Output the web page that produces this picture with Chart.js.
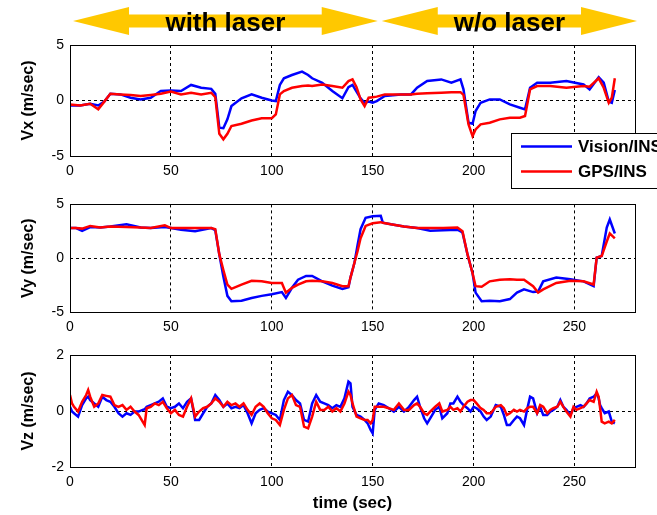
<!DOCTYPE html>
<html>
<head>
<meta charset="utf-8">
<script src="https://cdn.jsdelivr.net/npm/chart.js@4.4.1/dist/chart.umd.min.js"></script>
<style>
  html, body { margin: 0; padding: 0; background: #fff; }
  #wrap { position: relative; width: 657px; height: 515px; overflow: hidden; }
  #wrap canvas { position: absolute; left: 0; }
</style>
</head>
<body>
<div id="wrap">
  <canvas id="vx" width="657" height="190" style="top:0"></canvas>
  <canvas id="vy" width="657" height="150" style="top:190px"></canvas>
  <canvas id="vz" width="657" height="175" style="top:340px"></canvas>
</div>
<script>
// ---- data ------------------------------------------------------------------
const seriesNames = ['Vision/INS', 'GPS/INS'];

const phaseLabels = ['with laser', 'w/o laser'];
const phaseStart  = [1.5, 154.5];
const phaseEnd    = [152.5, 281];

const vxTime = [0, 5, 10, 14, 17, 20, 25, 30, 35, 40, 45, 50, 55, 60, 65, 70, 72, 74, 76, 78,
  80, 85, 90, 95, 100, 102, 104, 106, 110, 115, 118, 120, 125, 130, 135, 138, 140, 142, 144, 146,
  148, 150, 152, 156, 164, 169, 172, 177, 184, 189, 193.5, 195, 197.5, 199.5, 201, 203.5, 208, 213, 218, 223,
  225.5, 228, 231.5, 238, 246, 254.5, 257.5, 262, 264.5, 267, 268.5, 270];
const vxVision = [-0.45, -0.45, -0.3, -0.45, -0.1, 0.6, 0.55, 0.25, 0.1, 0.25,
  0.85, 0.9, 0.85, 1.4, 1.15, 1.05, 0.6, -2.45, -2.5, -1.7,
  -0.5, 0.2, 0.55, 0.25, 0.0, -0.05, 1.4, 2.0, 2.3, 2.6,
  2.3, 2.0, 1.6, 0.85, 0.2, 1.2, 1.4, 0.8, 0.2, -0.2,
  -0.1, -0.2, -0.05, 0.4, 0.55, 0.55, 1.15, 1.75, 1.9, 1.6,
  1.9, 1.0, -2.0, -2.1, -0.95, -0.2, 0.1, 0.1, -0.35, -0.65,
  -0.8, 1.15, 1.6, 1.6, 1.75, 1.45, 1.0, 2.1, 1.6, -0.1,
  -0.2, 0.95];
const vxGps = [-0.35, -0.45, -0.3, -0.8, -0.1, 0.6, 0.55, 0.5, 0.4, 0.5,
  0.6, 0.8, 0.55, 0.7, 0.55, 0.7, 0.3, -3.0, -3.5, -3.0,
  -2.3, -2.1, -1.8, -1.6, -1.6, -1.25, 0.55, 0.85, 1.15, 1.3,
  1.35, 1.3, 1.45, 1.3, 1.15, 1.75, 1.9, 1.2, 0.1, -0.5,
  0.25, 0.3, 0.35, 0.55, 0.55, 0.55, 0.6, 0.65, 0.7, 0.75,
  0.75, 0.5, -2.15, -3.2, -2.6, -2.15, -2.0, -1.7, -1.55, -1.55,
  -1.4, 1.0, 1.3, 1.3, 1.15, 1.3, 1.25, 2.0, 1.15, -0.2,
  0.25, 2.0];

const vyTime = [0, 3, 6, 10, 15, 20, 28, 35, 40, 47, 50, 55, 62, 70, 72, 74, 76, 78, 80, 85,
  90, 95, 100, 105, 107, 110, 113, 117, 120, 125, 130, 135, 138, 139, 141, 142.5, 144, 146.5, 150, 154,
  155, 159, 165.5, 172, 178.5, 185, 192, 194.5, 197, 199.5, 201, 204, 208, 213, 218, 221.5, 225, 229.5, 232, 234.5,
  241, 248, 254.5, 259.5, 261, 263.5, 266, 267.5, 270];
const vyVision = [2.8, 2.8, 2.55, 2.9, 2.85, 2.95, 3.15, 2.85, 2.8, 2.9,
  2.8, 2.65, 2.5, 2.8, 2.6, 0.35, -1.7, -3.5, -4.0, -3.95,
  -3.7, -3.5, -3.35, -3.15, -3.7, -2.75, -2.0, -1.65, -1.65, -2.15,
  -2.55, -2.85, -2.7, -1.8, -0.4, 1.2, 2.7, 3.75, 3.9, 3.95,
  3.3, 3.15, 2.95, 2.8, 2.55, 2.6, 2.65, 2.4, 0.35, -1.4,
  -3.2, -4.0, -3.95, -4.0, -3.8, -3.2, -2.9, -3.15, -3.1, -2.15,
  -1.8, -1.95, -2.15, -2.6, 0.05, 0.2, 2.85, 3.6, 2.3];
const vyGps = [2.8, 2.8, 2.75, 3.0, 2.85, 2.95, 2.9, 2.85, 2.8, 3.05,
  2.8, 2.8, 2.8, 2.8, 2.7, 0.35, -1.1, -2.45, -2.85, -2.45,
  -2.1, -2.15, -2.3, -2.3, -3.2, -2.75, -2.45, -2.15, -2.1, -2.15,
  -2.3, -2.6, -2.6, -1.8, -0.4, 0.65, 1.85, 3.0, 3.25, 3.35,
  3.3, 3.15, 2.95, 2.8, 2.8, 2.8, 2.85, 2.5, 0.35, -1.4,
  -2.6, -2.65, -2.15, -2.0, -1.95, -2.0, -2.0, -2.6, -3.2, -2.9,
  -2.3, -2.1, -2.15, -2.45, 0.05, 0.2, 1.55, 2.3, 1.85];

const vzTime = [0, 1, 2, 4, 6, 8, 9, 10, 12, 14, 16, 18, 20, 22, 24, 26, 28, 30, 32, 34,
  36, 37, 38, 40, 42, 44, 46, 48, 50, 52, 54, 56, 58, 60, 62, 64, 66, 68, 70, 72,
  74, 76, 78, 80, 82, 84, 86, 88, 90, 92, 94, 96, 98, 100, 102, 104, 106, 108, 110, 112,
  114, 116, 118, 120, 122, 124, 126, 128, 130, 132, 134, 136, 138, 139, 140,
  142, 144, 146, 147.5, 149, 150, 151, 153, 155.5, 158, 160.5, 163, 165.5, 168, 170.5, 172, 173.5, 175.5, 177, 178.5,
  181, 183, 184.5, 187, 188.5, 190, 192, 193.5, 195, 197, 198.5, 200, 201.5, 203.5, 205, 206.5, 208.5, 211, 213.5, 215,
  216.5, 218, 220, 221.5, 223, 225, 226.5, 228, 229.5, 231.5, 233, 234.5, 236.5, 238, 239.5, 241.5, 243, 244.5, 246, 248,
  249.5, 251, 253, 254.5, 256, 257.5, 259.5, 261, 262, 262.7, 263.5, 265, 267, 268.5, 270];
const vzVision = [0.15, -0.02, -0.08, -0.2, 0.21, 0.45, 0.51, 0.39, 0.27, 0.15,
  0.51, 0.39, 0.33, 0.15, -0.08, -0.2, -0.08, -0.14, -0.02, -0.02,
  0.04, 0.06, 0.15, 0.21, 0.27, 0.33, 0.45, 0.15, 0.1, 0.15,
  0.27, 0.1, 0.33, 0.45, -0.32, -0.32, -0.08, 0.15, 0.27, 0.57,
  0.39, 0.15, 0.27, 0.1, 0.15, 0.1, 0.21, -0.08, -0.44, -0.08,
  0.04, 0.1, -0.02, -0.08, -0.14, -0.32, 0.39, 0.69, 0.57, 0.39,
  0.27, -0.32, -0.38, 0.27, 0.57, 0.33, 0.27, 0.21, 0.1, 0.21,
  0.15, 0.45, 1.05, 0.99, 0.15,
  -0.14, -0.2, -0.32, -0.44, -0.68, -0.8, 0.04, 0.27, 0.21, 0.1,
  -0.02, 0.15, -0.02, 0.15, 0.39, 0.51, 0.15, -0.26, -0.44, -0.26,
  0.04, 0.15, -0.26, -0.08, 0.27, 0.27, 0.51, 0.33, 0.21, 0.1,
  -0.02, 0.15, 0.1, -0.02, -0.2, -0.32, -0.2, 0.21, 0.15, -0.14,
  -0.5, -0.5, -0.32, -0.2, -0.26, -0.5, 0.04, 0.51, 0.45, -0.08,
  0.15, -0.14, -0.14, -0.02, 0.04, 0.15, 0.39, 0.15, 0.04, -0.14,
  0.1, 0.15, 0.21, 0.15, 0.27, 0.45, 0.51, 0.63, 0.45, 0.21,
  0.1, -0.08, -0.02, -0.38, -0.44];
const vzGps = [0.57, 0.27, 0.15, -0.02, 0.33, 0.57, 0.75, 0.51, 0.15, 0.27,
  0.57, 0.54, 0.51, 0.21, 0.15, 0.21, 0.04, 0.15, -0.02, -0.14,
  -0.38, -0.5, 0.1, 0.15, 0.27, 0.21, 0.33, 0.1, -0.08, 0.04,
  -0.14, -0.2, 0.15, 0.45, -0.2, -0.02, 0.1, 0.15, 0.27, 0.45,
  0.33, 0.15, 0.33, 0.21, 0.27, 0.15, 0.27, 0.04, -0.14, 0.15,
  0.27, 0.15, -0.08, -0.26, -0.32, -0.5, 0.04, 0.45, 0.57, 0.21,
  0.15, -0.56, -0.62, -0.2, 0.33, 0.04, 0.04, 0.15, -0.02, 0.1,
  -0.02, 0.27, 0.69, 0.57, 0.27,
  -0.2, -0.26, -0.32, -0.32, -0.44, -0.32, 0.15, 0.15, 0.15, 0.1,
  0.04, 0.27, 0.04, 0.04, 0.21, 0.27, 0.15, -0.08, -0.14, -0.02,
  0.15, 0.27, -0.02, 0.04, 0.15, 0.04, 0.1, -0.02, 0.15, 0.33,
  0.39, 0.39, 0.27, 0.1, 0.04, -0.08, -0.08, 0.15, 0.21, 0.1,
  -0.14, -0.08, 0.04, -0.02, 0.04, -0.02, 0.1, 0.15, 0.15, -0.08,
  0.21, 0.15, -0.08, 0.04, 0.1, 0.15, 0.33, 0.15, -0.02, -0.2,
  0.15, 0.04, 0.1, 0.15, 0.27, 0.39, 0.33, 0.69, 0.51, 0.1,
  -0.38, -0.44, -0.38, -0.44, -0.32];

// ---- styling ----------------------------------------------------------------
const BLUE = 'rgb(0, 0, 255)';
const RED  = 'rgb(255, 0, 0)';
const GOLD = 'rgb(255, 200, 0)';
const SANS = '"Liberation Sans", Arial, sans-serif';
const TICK_FONT = { family: '"Liberation Sans Narrow", "Liberation Sans", Arial, sans-serif', size: 14 };

const toPoints = (t, v) => t.map((x, i) => ({ x, y: v[i] }));

// closed MATLAB-style box round the plot area
const boxPlugin = {
  id: 'box',
  afterDraw(chart) {
    const { ctx, chartArea: a } = chart;
    ctx.save();
    ctx.strokeStyle = '#000';
    ctx.lineWidth = 1;
    ctx.strokeRect(Math.round(a.left) + 0.5, Math.round(a.top) + 0.5,
      Math.round(a.right - a.left), Math.round(a.bottom - a.top));
    ctx.restore();
  },
};

// yellow double arrows with the phase names above the first panel
const phasePlugin = {
  id: 'phases',
  afterDraw(chart) {
    const { ctx } = chart;
    const xs = chart.scales.x;
    const cy = 21, body = 6.5, head = 14, headLen = 56;
    ctx.save();
    phaseLabels.forEach((label, i) => {
      const x1 = xs.getPixelForValue(phaseStart[i]);
      const x2 = xs.getPixelForValue(phaseEnd[i]);
      ctx.fillStyle = GOLD;
      ctx.beginPath();
      ctx.moveTo(x1, cy);
      ctx.lineTo(x1 + headLen, cy - head);
      ctx.lineTo(x1 + headLen, cy - body);
      ctx.lineTo(x2 - headLen, cy - body);
      ctx.lineTo(x2 - headLen, cy - head);
      ctx.lineTo(x2, cy);
      ctx.lineTo(x2 - headLen, cy + head);
      ctx.lineTo(x2 - headLen, cy + body);
      ctx.lineTo(x1 + headLen, cy + body);
      ctx.lineTo(x1 + headLen, cy + head);
      ctx.closePath();
      ctx.fill();
      ctx.fillStyle = '#000';
      ctx.font = 'bold 26px ' + SANS;
      ctx.textAlign = 'center';
      ctx.textBaseline = 'alphabetic';
      ctx.fillText(label, (x1 + x2) / 2, 31);
    });
    ctx.restore();
  },
};

// boxed legend sitting over the lower right corner of the first panel
const legendPlugin = {
  id: 'boxLegend',
  afterDraw(chart) {
    const { ctx } = chart;
    const x0 = 511, y0 = 133, w = 160, h = 55;
    ctx.save();
    ctx.fillStyle = '#fff';
    ctx.fillRect(x0, y0, w, h);
    ctx.strokeStyle = '#000';
    ctx.lineWidth = 1;
    ctx.strokeRect(x0 + 0.5, y0 + 0.5, w, h);
    ctx.font = 'bold 17px ' + SANS;
    ctx.textBaseline = 'middle';
    ctx.textAlign = 'left';
    chart.data.datasets.forEach((ds, i) => {
      const y = y0 + 13.5 + i * 25;
      ctx.strokeStyle = ds.borderColor;
      ctx.lineWidth = 2.5;
      ctx.beginPath();
      ctx.moveTo(x0 + 10, y);
      ctx.lineTo(x0 + 61, y);
      ctx.stroke();
      ctx.fillStyle = '#000';
      ctx.fillText(ds.label, x0 + 67, y + 1);
    });
    ctx.restore();
  },
};

function makePanel(id, cfg) {
  return new Chart(document.getElementById(id), {
    type: 'line',
    data: {
      datasets: [
        { label: seriesNames[0], data: toPoints(cfg.time, cfg.vision), borderColor: BLUE, order: 2 },
        { label: seriesNames[1], data: toPoints(cfg.time, cfg.gps), borderColor: RED, order: 1 },
      ],
    },
    plugins: [boxPlugin, ...(cfg.plugins || [])],
    options: {
      responsive: false,
      animation: false,
      devicePixelRatio: 1,
      layout: { padding: cfg.padding },
      elements: {
        point: { radius: 0, hoverRadius: 0 },
        line: { borderWidth: 2.5, tension: 0, fill: false },
      },
      plugins: { legend: { display: false }, tooltip: { enabled: false } },
      scales: {
        x: {
          type: 'linear', min: 0, max: 280,
          ticks: { stepSize: 50, includeBounds: false, autoSkip: false, maxRotation: 0,
                   font: TICK_FONT, color: '#000', padding: 7 },
          grid: { color: '#000', lineWidth: 1, drawTicks: false },
          border: { display: false, dash: [3, 3] },
          title: cfg.xTitle
            ? { display: true, text: cfg.xTitle, color: '#000',
                font: { family: SANS, size: 17, weight: 'bold' }, padding: { top: 0, bottom: 1 } }
            : { display: false },
          afterFit: s => { s.height = cfg.xHeight; },
        },
        y: {
          type: 'linear', min: -cfg.yMax, max: cfg.yMax,
          ticks: { stepSize: cfg.yMax, font: TICK_FONT, color: '#000', padding: 6 },
          grid: { color: '#000', lineWidth: 1, drawTicks: false },
          border: { display: false, dash: [3, 3] },
          title: { display: true, text: cfg.yTitle, color: '#000',
                   font: { family: SANS, size: 16, weight: 'bold' }, padding: { top: 19, bottom: 0 } },
          afterFit: s => { s.width = 70; },
        },
      },
    },
  });
}

makePanel('vx', {
  time: vxTime, vision: vxVision, gps: vxGps, yMax: 5, yTitle: 'Vx (m/sec)',
  padding: { top: 45, right: 22, bottom: 10, left: 0 }, xHeight: 24,
  plugins: [phasePlugin, legendPlugin],
});
makePanel('vy', {
  time: vyTime, vision: vyVision, gps: vyGps, yMax: 5, yTitle: 'Vy (m/sec)',
  padding: { top: 9, right: 22, bottom: 4, left: 0 }, xHeight: 24,
});
makePanel('vz', {
  time: vzTime, vision: vzVision, gps: vzGps, yMax: 2, yTitle: 'Vz (m/sec)',
  padding: { top: 15, right: 22, bottom: 0, left: 0 }, xHeight: 48, xTitle: 'time (sec)',
});
</script>
</body>
</html>
